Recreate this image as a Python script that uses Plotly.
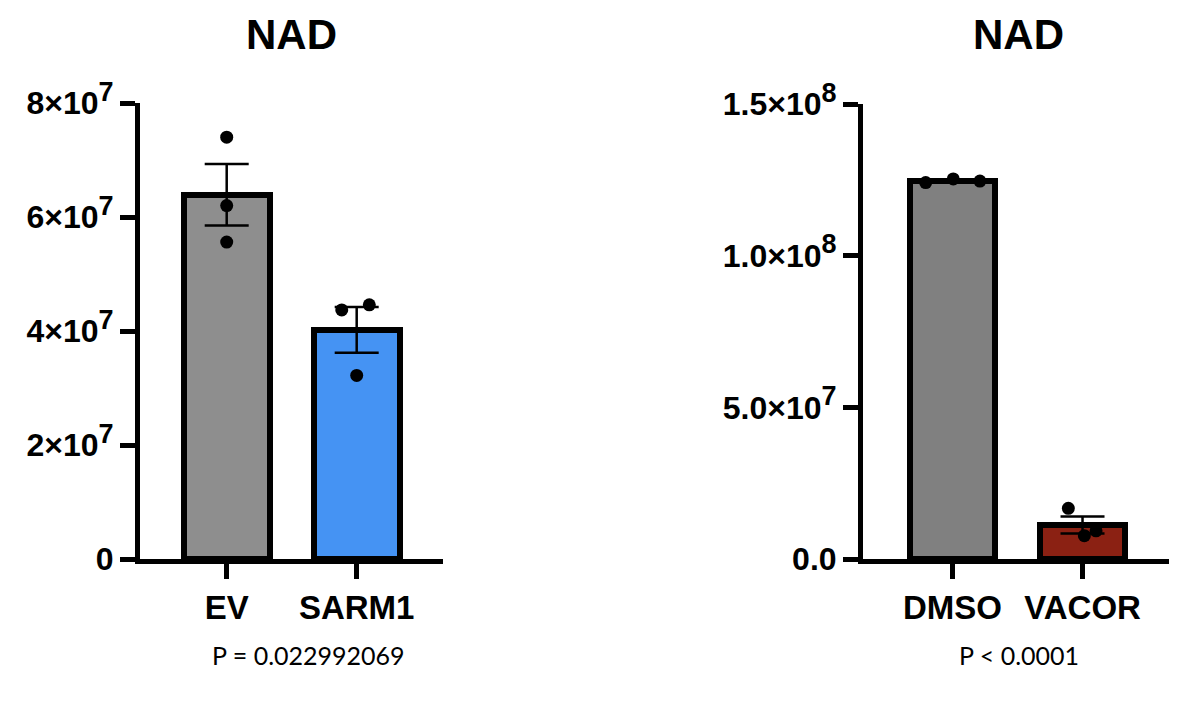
import plotly.graph_objects as go

# ---- data ----
left_categories = ["EV", "SARM1"]
left_means = [6.39e7, 4.02e7]
left_sems = [0.54e7, 0.40e7]
left_points = [[7.40e7, 6.20e7, 5.56e7], [4.37e7, 4.46e7, 3.22e7]]
left_colors = ["#8e8e8e", "#4593f3"]
left_tickvals = [0, 2e7, 4e7, 6e7, 8e7]
left_tick_mantissa = ["0", "2", "4", "6", "8"]
left_tick_exponent = [None, "7", "7", "7", "7"]
left_pvalue = "P = 0.022992069"

right_categories = ["DMSO", "VACOR"]
right_means = [1.247e8, 1.12e7]
right_sems = [0.035e7, 0.28e7]
right_points = [[1.241e8, 1.253e8, 1.246e8], [1.67e7, 0.77e7, 0.93e7]]
right_colors = ["#808080", "#8b2113"]
right_tickvals = [0, 5e7, 1e8, 1.5e8]
right_tick_mantissa = ["0.0", "5.0", "1.0", "1.5"]
right_tick_exponent = [None, "7", "8", "8"]
right_pvalue = "P < 0.0001"

title_text = "NAD"

# jitter of the replicate dots (category units), a layout choice
left_jitter = [[0.0, 0.0, 0.0], [-0.115, 0.097, 0.0]]
right_jitter = [[-0.206, 0.006, 0.211], [-0.109, 0.014, 0.104]]

W, H = 1200, 704
BOLD = "Liberation Sans, Arial, Helvetica, sans-serif"
YSIZE = 32
SUPSIZE = 27


def px_x(p):
    return p / W


def px_y(p):
    return 1 - p / H


def sci_labels(mantissa, exponent):
    out = []
    for m, e in zip(mantissa, exponent):
        if e is None:
            out.append(m)
        else:
            out.append(f'{m}×10<sup><span style="font-size:{SUPSIZE}px">{e}</span></sup>')
    return out


fig = go.Figure()


def add_panel(cats, means, sems, points, colors, jitter, xa, ya):
    xs = list(range(len(cats)))
    fig.add_trace(go.Bar(
        x=xs, y=means, width=0.66,
        marker=dict(color=colors, line=dict(color="black", width=6)),
        error_y=dict(type="data", array=sems, visible=True, color="black",
                     thickness=2.5, width=22),
        xaxis=xa, yaxis=ya, showlegend=False,
    ))
    px, py = [], []
    for i, pts in enumerate(points):
        for j, v in enumerate(pts):
            px.append(xs[i] + jitter[i][j])
            py.append(v)
    fig.add_trace(go.Scatter(
        x=px, y=py, mode="markers",
        marker=dict(color="black", size=13),
        xaxis=xa, yaxis=ya, showlegend=False, cliponaxis=False,
    ))


add_panel(left_categories, left_means, left_sems, left_points, left_colors, left_jitter, "x", "y")
add_panel(right_categories, right_means, right_sems, right_points, right_colors, right_jitter, "x2", "y2")

axis_common = dict(showline=True, linecolor="black", linewidth=5, ticks="outside",
                   ticklen=15, tickwidth=5, tickcolor="black", showgrid=False,
                   zeroline=False, fixedrange=True, automargin=False)

XFONT = dict(family=BOLD, size=33, color="black", weight="bold")
YFONT = dict(family=BOLD, size=YSIZE, color="black", weight="bold")

fig.update_layout(
    width=W, height=H,
    margin=dict(l=0, r=0, t=0, b=0, autoexpand=False),
    paper_bgcolor="white", plot_bgcolor="white",
    bargap=0,
    xaxis=dict(domain=[px_x(140), px_x(443)], range=[-0.667, 1.664],
               tickvals=[0, 1], ticktext=left_categories, tickfont=XFONT,
               ticklabelstandoff=0, anchor="y", **axis_common),
    yaxis=dict(domain=[px_y(559), px_y(103)], range=[0, 8e7], tickvals=left_tickvals,
               ticktext=sci_labels(left_tick_mantissa, left_tick_exponent),
               tickfont=YFONT, ticklabelstandoff=0, anchor="x", **axis_common),
    xaxis2=dict(domain=[px_x(863), px_x(1169)], range=[-0.688, 1.665],
                tickvals=[0, 1], ticktext=right_categories, tickfont=XFONT,
                ticklabelstandoff=0, anchor="y2", **axis_common),
    yaxis2=dict(domain=[px_y(559), px_y(104)], range=[0, 1.5e8], tickvals=right_tickvals,
                ticktext=sci_labels(right_tick_mantissa, right_tick_exponent),
                tickfont=YFONT, ticklabelstandoff=0, anchor="x2", **axis_common),
)

annos = [
    dict(x=px_x(291.5), y=px_y(34), text=title_text,
         font=dict(family=BOLD, size=42, color="black", weight="bold")),
    dict(x=px_x(1018), y=px_y(34), text=title_text,
         font=dict(family=BOLD, size=42, color="black", weight="bold")),
    dict(x=px_x(308), y=px_y(655), text=left_pvalue,
         font=dict(family="Lato, Open Sans, sans-serif", size=25, color="black")),
    dict(x=px_x(1019), y=px_y(655), text=right_pvalue,
         font=dict(family="Lato, Open Sans, sans-serif", size=25, color="black")),
]
for a in annos:
    fig.add_annotation(xref="paper", yref="paper", showarrow=False,
                       xanchor="center", yanchor="middle", **a)

fig.write_html("out.html")
